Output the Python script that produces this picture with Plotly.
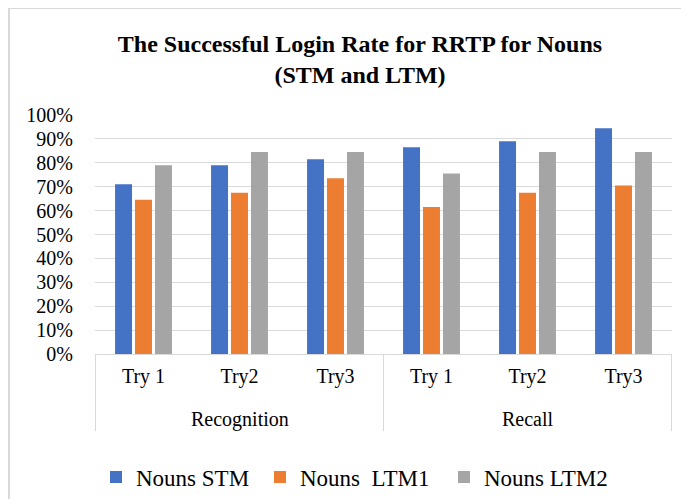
import plotly.graph_objects as go

# 데이터
groups = ["Recognition", "Recall"]
tries = ["Try 1", "Try2", "Try3", "Try 1", "Try2", "Try3"]
categories = [f"{g} {t}" for g in groups for t in tries[:3]]
nouns_stm = [0.71, 0.79, 0.815, 0.865, 0.89, 0.945]
nouns_ltm1 = [0.645, 0.675, 0.735, 0.615, 0.675, 0.705]
nouns_ltm2 = [0.79, 0.845, 0.845, 0.755, 0.845, 0.845]
y_ticks = [i / 10 for i in range(11)]

# 페이지 body 여백(8px) 보정
OFF = 8
W, H = 689, 499
L = 95 - OFF
T = 115 - OFF
PW, PH = 577, 239
R = W - L - PW
B = H - T - PH
FONT = "Liberation Serif, Times New Roman, serif"
GRID = "#D9D9D9"

series = [
    ("Nouns STM", nouns_stm, "#4472C4", "legend", 96),
    ("Nouns  LTM1", nouns_ltm1, "#ED7D31", "legend2", 260),
    ("Nouns LTM2", nouns_ltm2, "#A5A5A5", "legend3", 444),
]

fig = go.Figure()
for name, vals, color, leg, _ in series:
    fig.add_trace(go.Bar(
        x=categories,
        y=vals,
        name=name,
        legend=leg,
        showlegend=True,
        marker=dict(color=color, line=dict(width=0)),
    ))


def px_y(y):
    # 화면 픽셀 y -> paper 좌표
    return (H - B - (y - OFF)) / PH


def px_x(x):
    return (x - OFF - L) / PW


# 그룹 라벨 (Recognition / Recall)
annotations = []
for i, g in enumerate(groups):
    annotations.append(dict(
        x=categories[i * 3 + 1], xref="x",
        y=px_y(419), yref="paper", yanchor="middle",
        text=g, showarrow=False,
        font=dict(size=20, family=FONT, color="#000000"),
    ))

# 구분선
shapes = []
for pos in [-0.5, 2.5, 5.5]:
    shapes.append(dict(
        type="line", xref="x", yref="paper",
        x0=pos, x1=pos, y0=0, y1=px_y(431),
        line=dict(color=GRID, width=1),
    ))
# 차트 영역 테두리
shapes.append(dict(type="line", xref="paper", yref="paper",
                   x0=px_x(9), x1=px_x(9), y0=px_y(7), y1=px_y(530),
                   line=dict(color=GRID, width=2)))
shapes.append(dict(type="line", xref="paper", yref="paper",
                   x0=px_x(9), x1=1.2, y0=px_y(8), y1=px_y(8),
                   line=dict(color=GRID, width=2)))

legend_style = {}
for i, (_, _, _, leg, lx) in enumerate(series):
    legend_style[leg] = dict(
        orientation="h",
        x=(lx - OFF) / W, xanchor="left", xref="container",
        y=1 - (477 - OFF) / H, yanchor="middle", yref="container",
        font=dict(size=23),
        bgcolor="rgba(0,0,0,0)",
    )

fig.update_layout(
    width=W,
    height=H,
    margin=dict(l=L, r=R, t=T, b=B, autoexpand=False),
    paper_bgcolor="white",
    plot_bgcolor="white",
    showlegend=True,
    barmode="group",
    bargap=0.376,
    bargroupgap=0.15,
    font=dict(family=FONT, color="#000000", size=20),
    title=dict(
        text="<b>The Successful Login Rate for RRTP for Nouns<br>(STM and LTM)</b>",
        x=(360 - OFF) / W, xref="container", xanchor="center",
        y=1 - 44 / H, yref="container", yanchor="top",
        font=dict(size=24, family=FONT),
    ),
    annotations=annotations,
    shapes=shapes,
    **legend_style,
)

fig.update_xaxes(
    type="category",
    showline=True, linecolor=GRID, linewidth=1,
    tickvals=categories,
    ticktext=tries,
    tickfont=dict(size=20),
    ticks="outside", ticklen=4, tickcolor="rgba(0,0,0,0)",
    automargin=False,
)
fig.update_yaxes(
    range=[0, 1.0],
    tickvals=y_ticks,
    tickformat=".0%",
    showgrid=True, gridcolor=GRID, gridwidth=1,
    zeroline=False,
    tickfont=dict(size=20),
    ticks="outside", ticklen=17, tickcolor="rgba(0,0,0,0)",
    automargin=False,
)

fig.write_html("out.html")
